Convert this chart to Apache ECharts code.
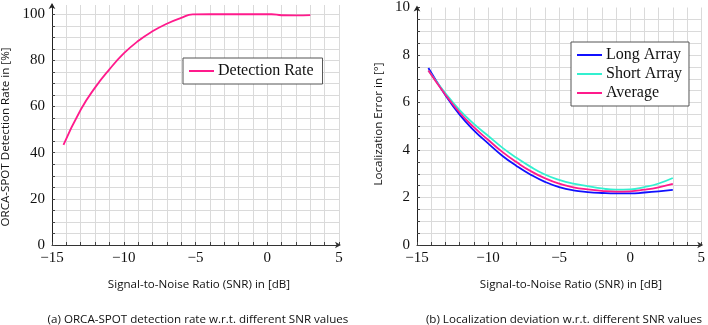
<!DOCTYPE html>
<html>
<head>
<meta charset="utf-8">
<script src="https://cdn.jsdelivr.net/npm/echarts@6/dist/echarts.min.js"></script>
<style>
html,body{margin:0;padding:0;background:#fff;}
#c{width:708px;height:325px;}
</style>
</head>
<body>
<div id="c"></div>
<script>
// ---- data ----
const snrDetect = [-14.2, -13, -12, -11, -10, -9, -8, -7, -6, -5.2, -4, -3, -2, -1, 0, 0.3, 1, 2, 3];
const detectionRate = [43.4, 58.6, 68.2, 76.1, 83.0, 88.4, 92.6, 95.9, 98.4, 99.9, 100, 100, 100, 100, 100, 100, 99.55, 99.5, 99.6];

const snrLoc = [-14.2, -13, -12, -11, -10, -9, -8, -7, -6, -5, -4, -3, -2, -1, 0, 1, 2, 3];
const longArray  = [7.45, 6.31, 5.49, 4.83, 4.28, 3.76, 3.33, 2.96, 2.66, 2.44, 2.30, 2.23, 2.19, 2.17, 2.17, 2.21, 2.26, 2.32];
const shortArray = [7.35, 6.39, 5.68, 5.10, 4.60, 4.10, 3.67, 3.29, 2.97, 2.74, 2.58, 2.48, 2.38, 2.33, 2.34, 2.44, 2.59, 2.82];
const average    = [7.35, 6.33, 5.58, 4.96, 4.43, 3.92, 3.49, 3.11, 2.81, 2.58, 2.43, 2.34, 2.28, 2.25, 2.26, 2.33, 2.43, 2.57];

const xTickLabels = [-15, -10, -5, 0, 5];
const yTickLabelsLeft = [0, 20, 40, 60, 80, 100];
const yTickLabelsRight = [0, 2, 4, 6, 8, 10];

const seriesNames = ['Detection Rate', 'Long Array', 'Short Array', 'Average'];
const texts = {
  xTitle: 'Signal-to-Noise Ratio (SNR) in [dB]',
  yTitleLeft: 'ORCA-SPOT Detection Rate in [%]',
  yTitleRight: 'Localization Error in [°]',
  capLeft: '(a) ORCA-SPOT detection rate w.r.t. different SNR values',
  capRight: '(b) Localization deviation w.r.t. different SNR values'
};

// ---- chart ----
const pairs = (xs, ys) => xs.map((x, i) => [x, ys[i]]);
const near = (v, list) => list.some(t => Math.abs(v - t) < 1e-6);
const fmtNum = v => (v < 0 ? '\u2212' + Math.abs(v) : String(v));

const SERIF = '"Liberation Serif", "DejaVu Serif", serif';
const SANS = '"Open Sans", "DejaVu Sans", sans-serif';
const SANS_FONT = '11.6px ' + SANS;

function xAxis(gridIndex) {
  return {
    type: 'value', gridIndex, min: -15, max: 5, interval: 1,
    axisLine: { show: true, onZero: false, lineStyle: { color: '#333', width: 1 }, symbol: ['none', 'arrow'], symbolSize: [5, 6], symbolOffset: [0, 2] },
    axisTick: { show: true, inside: true, length: 3, lineStyle: { color: '#444' } },
    splitLine: { show: true, lineStyle: { color: '#dadada', width: 1 } },
    axisLabel: { margin: 6, color: '#111', fontFamily: SERIF, fontSize: 15,
      formatter: v => near(v, xTickLabels) ? fmtNum(v) : '' }
  };
}
function yAxis(gridIndex, max, interval, labels) {
  return {
    type: 'value', gridIndex, min: 0, max, interval,
    axisLine: { show: true, onZero: false, lineStyle: { color: '#222', width: 1 }, symbol: ['none', 'arrow'], symbolSize: [5, 6], symbolOffset: [0, 2] },
    axisTick: { show: true, inside: true, length: 3, lineStyle: { color: '#444' } },
    splitLine: { show: true, showMaxLine: false, lineStyle: { color: '#dadada', width: 1 } },
    axisLabel: { margin: 7, color: '#111', fontFamily: SERIF, fontSize: 15, showMaxLabel: max === 10,
      formatter: v => near(v, labels) ? fmtNum(v) : '' }
  };
}
function line(name, data, color, xi) {
  return {
    name, type: 'line', xAxisIndex: xi, yAxisIndex: xi, data,
    symbol: 'none', showSymbol: false, smooth: 0.5,
    lineStyle: { color, width: 1.8 }, itemStyle: { color }, z: 3
  };
}
function legend(data, left, top, padding) {
  return {
    data, orient: 'vertical', left, top, padding,
    backgroundColor: '#fff', borderColor: '#555', borderWidth: 1, borderRadius: 0,
    itemWidth: 25, itemHeight: 14, itemGap: 3,
    itemStyle: { opacity: 0 },
    textStyle: { fontFamily: SERIF, fontSize: 16, color: '#111', padding: [0, 0, 0, -1] },
    selectedMode: false
  };
}

const chart = echarts.init(document.getElementById('c'), null, { renderer: 'canvas' });
chart.setOption({
  animation: false,
  backgroundColor: '#fff',
  grid: [
    { left: 52, top: 5, width: 287, height: 240 },
    { left: 417, top: 5, width: 288, height: 240 }
  ],
  xAxis: [xAxis(0), xAxis(1)],
  yAxis: [yAxis(0, 104, 5, yTickLabelsLeft), yAxis(1, 10, 0.5, yTickLabelsRight)],
  legend: [
    legend([seriesNames[0]], 183, 58, [5, 9, 5, 5]),
    legend(seriesNames.slice(1), 571, 42, [5, 7, 5, 5])
  ],
  series: [
    line(seriesNames[0], pairs(snrDetect, detectionRate), '#ff1a8c', 0),
    line(seriesNames[1], pairs(snrLoc, longArray), '#1010ff', 1),
    line(seriesNames[2], pairs(snrLoc, shortArray), '#33f0d0', 1),
    line(seriesNames[3], pairs(snrLoc, average), '#ff1a8c', 1)
  ],
  graphic: [
    { type: 'text', x: 199, y: 285, style: { text: texts.xTitle, font: SANS_FONT, fill: '#111', align: 'center', verticalAlign: 'middle' } },
    { type: 'text', x: 571, y: 285, style: { text: texts.xTitle, font: SANS_FONT, fill: '#111', align: 'center', verticalAlign: 'middle' } },
    { type: 'text', x: 6, y: 137, rotation: Math.PI / 2, style: { text: texts.yTitleLeft, font: SANS_FONT, fill: '#111', align: 'center', verticalAlign: 'middle' } },
    { type: 'text', x: 379, y: 124, rotation: Math.PI / 2, style: { text: texts.yTitleRight, font: SANS_FONT, fill: '#111', align: 'center', verticalAlign: 'middle' } },
    { type: 'text', x: 198, y: 320, style: { text: texts.capLeft, font: SANS_FONT, fill: '#111', align: 'center', verticalAlign: 'middle' } },
    { type: 'text', x: 564, y: 320, style: { text: texts.capRight, font: SANS_FONT, fill: '#111', align: 'center', verticalAlign: 'middle' } }
  ]
});
</script>
</body>
</html>
